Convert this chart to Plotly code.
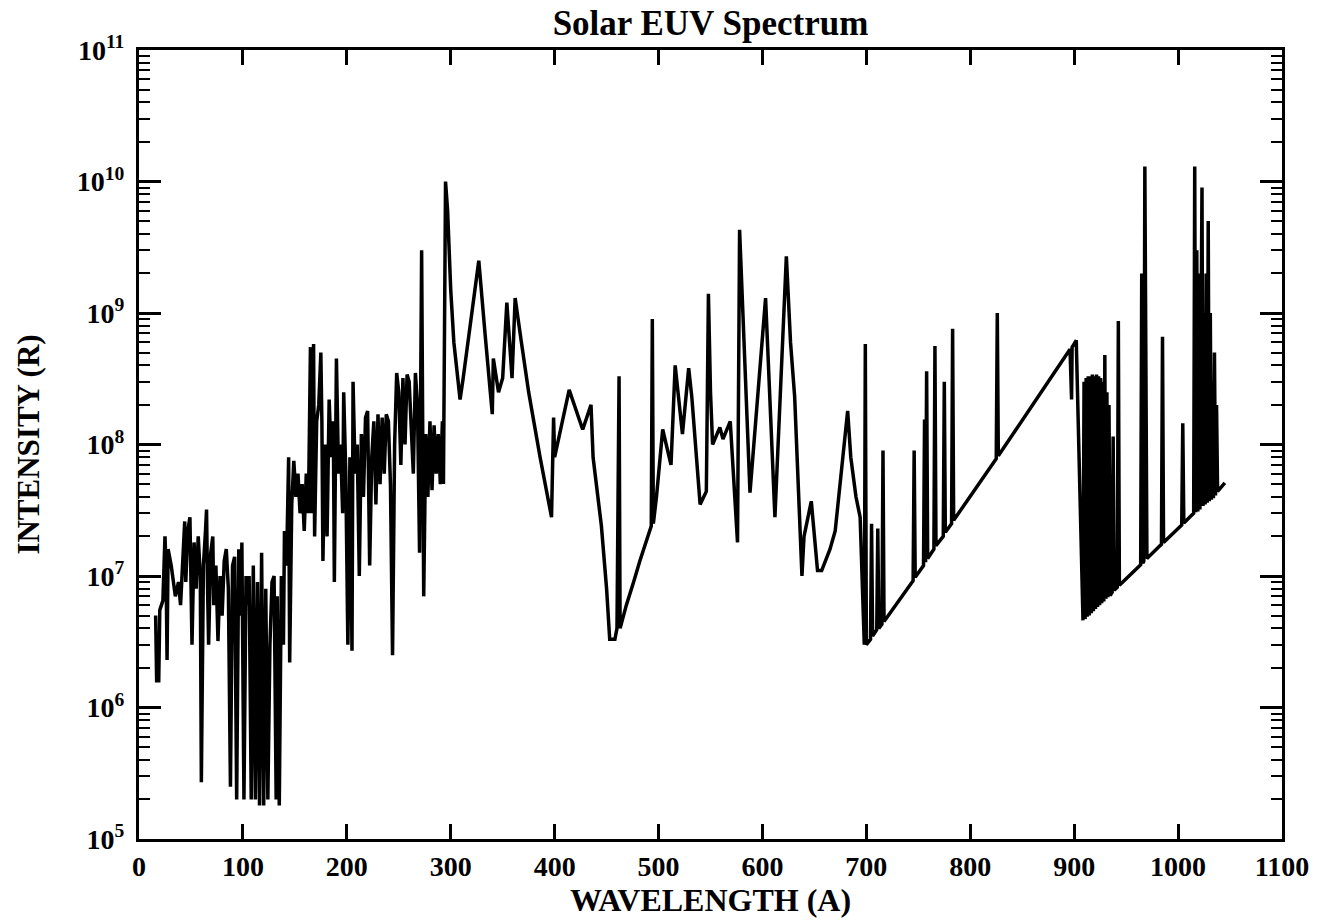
import plotly.graph_objects as go

# ---- data (wavelength in Angstrom, intensity in Rayleigh) ----
wavelength_short = [16, 17, 19, 20, 23, 25, 26, 27, 28, 31, 35, 38, 40, 42, 44, 45, 47, 49, 50, 51,
                    53, 55, 57, 59, 60, 62, 64, 65, 66, 67, 69, 71, 72, 74, 76, 78, 80, 82, 84, 86,
                    88, 90, 92, 94, 96, 98, 99, 101, 103, 105, 106, 108, 110, 112, 114, 116, 118, 120,
                    122, 124, 126, 128, 130, 132, 133, 135, 137, 139, 140, 142, 144, 145, 147, 149]
intensity_short = [5.0e6, 1.6e6, 1.6e6, 5.5e6, 6.5e6, 2.0e7, 1.2e7, 2.3e6, 1.6e7, 1.2e7, 7e6, 9e6, 6e6, 1.3e7,
                   2.6e7, 9e6, 2.2e7, 2.8e7, 1.0e7, 3.0e6, 1.8e7, 8e6, 2.0e7, 1.0e7, 2.7e5, 1.2e7, 2.2e7,
                   3.2e7, 8e6, 3.0e6, 1.5e7, 2.0e7, 6e6, 1.2e7, 3.2e6, 1.0e7, 5e6, 1.3e7, 1.6e7, 8e6,
                   2.5e5, 1.2e7, 1.4e7, 2.0e5, 1.6e7, 5e6, 1.8e7, 2.0e5, 1.0e7, 6e6, 1.0e7, 2.0e5, 1.2e7,
                   2.0e5, 9e6, 1.8e5, 1.5e7, 1.8e5, 8e6, 2.0e5, 3e6, 9e6, 1.0e7, 2.0e5, 7e6, 1.8e5, 1.0e7,
                   3e6, 2.2e7, 1.2e7, 8e7, 2.2e6, 3.5e7, 7.5e7]

wavelength_mid = [151, 153, 155, 157, 159, 161, 163, 165, 166, 168, 169, 171, 173, 175, 176, 177, 179, 181,
                  183, 185, 187, 188, 190, 192, 194, 196, 197, 199, 201, 203, 205, 206, 208, 210, 212, 214,
                  216, 218, 220, 222, 224, 226, 228, 230, 232, 234, 236, 238, 240, 242, 244, 246, 248, 250,
                  252, 254, 256, 258, 260, 262, 264, 266, 268, 270, 272, 274, 276, 278, 280, 282, 284, 286,
                  288, 290, 292, 293, 295, 297, 300, 303, 309, 312, 327, 333, 340, 341, 346, 350, 354, 359,
                  362, 368, 375, 386, 397, 399, 400, 414, 427, 435, 437, 445, 450, 453, 458, 460, 462, 463,
                  466, 469, 476, 482, 493, 494, 495, 498, 504, 512, 516, 523, 529, 532, 540, 546, 548, 550,
                  552, 559, 562, 569, 576, 578, 588, 603, 612, 623, 627, 631, 638, 640, 647, 653, 657, 665,
                  670, 682, 685, 690, 694, 697, 698, 699]
intensity_mid = [4e7, 6e7, 3e7, 5e7, 2.2e7, 6e7, 3e7, 5.5e8, 3e7, 5.8e8, 2e7, 1.5e8, 2e8, 5e8, 1.5e8, 1.3e7,
                 1e8, 2e7, 2.2e8, 8e7, 1.5e8, 9e6, 4.5e8, 6e7, 1e8, 3e7, 2.5e8, 6e7, 3e6, 8e7, 2.7e6, 3e8,
                 6e7, 1e8, 1e7, 1.2e8, 4e7, 1.6e8, 1.8e8, 1.2e7, 8e7, 1.5e8, 3.5e7, 1.7e8, 5e7, 1.6e8, 6e7,
                 1.7e8, 1.5e8, 5e7, 2.5e6, 1e8, 3.5e8, 2.5e8, 7e7, 3.2e8, 1e8, 3.4e8, 3e8, 1.5e8, 6e7,
                 3.5e8, 2e8, 1.5e7, 3e9, 7e6, 1.2e8, 4e7, 1.5e8, 4.5e7, 1.4e8, 6e7, 1.2e8, 5e7, 1.5e8, 5e7,
                 1.0e10, 6e9, 1.5e9, 6e8, 2.2e8, 3.2e8, 2.5e9, 7e8, 1.7e8, 4.5e8, 2.5e8, 3.2e8, 1.2e9, 3.2e8,
                 1.3e9, 6e8, 2.5e8, 8e7, 2.8e7, 1.6e8, 8e7, 2.6e8, 1.3e8, 2.0e8, 8e7, 2.4e7, 8e6, 3.3e6,
                 3.3e6, 4e6, 3.3e8, 4e6, 5e6, 6e6, 9e6, 1.3e7, 2.4e7, 9e8, 2.5e7, 4e7, 1.3e8, 7e7, 4e8,
                 1.2e8, 3.8e8, 2.3e8, 3.5e7, 4.4e7, 1.4e9, 2.5e8, 1.0e8, 1.35e8, 1.1e8, 1.5e8, 1.8e7, 4.3e9,
                 4.3e7, 1.3e9, 2.8e7, 2.7e9, 6e8, 2.3e8, 1.0e7, 2e7, 3.7e7, 1.1e7, 1.1e7, 1.6e7, 2.2e7,
                 1.8e8, 8e7, 4e7, 2.8e7, 6e6, 3.0e6, 5.8e8]

wavelength_long = [700, 704, 705, 706, 710, 711, 712, 715, 716, 717, 745, 746, 747, 755, 756, 757, 758, 759,
                   760, 765, 766, 767, 774, 775, 776, 782, 783, 784, 825, 826, 827, 896, 897.5, 898, 902,
                   908.5, 909.5, 910.5, 911.5, 912.5, 913.5, 914.5, 915.5, 916.5, 917.5, 918.5, 919.5,
                   920.5, 921.5, 922.5, 923.5, 924.5, 925.5, 926.5, 927.5, 928.5, 929.5, 930.5, 931.5,
                   932.5, 933.5, 934.5, 936.5, 937.5, 938.5, 941.5, 942.5, 943.5, 964, 965, 966, 967, 968,
                   970, 984, 985, 986, 1003.5, 1004.5, 1005.5, 1015, 1016, 1017, 1018, 1019, 1020, 1021,
                   1023, 1024, 1025, 1026, 1027, 1028, 1029, 1030, 1031, 1032, 1033, 1034, 1035, 1036,
                   1037, 1038, 1045]
intensity_long = [3.0e6, 3.3e6, 2.5e7, 3.5e6, 3.9e6, 2.3e7, 4.0e6, 4.3e6, 9e7, 4.5e6, 9.2e6, 9e7, 9.8e6,
                  1.2e7, 1.55e8, 1.27e7, 3.6e8, 1.36e7, 1.4e7, 1.6e7, 5.6e8, 1.7e7, 2.0e7, 3e8, 2.15e7,
                  2.5e7, 7.6e8, 2.65e7, 7.8e7, 1.0e9, 8.2e7, 5.3e8, 2.2e8, 5.5e8, 6.2e8,
                  4.6e6, 3.0e8, 4.7e6, 3.2e8, 4.9e6, 3.3e8, 5.0e6, 3.3e8, 5.2e6, 3.4e8, 5.4e6, 3.3e8,
                  5.6e6, 3.4e8, 5.8e6, 3.3e8, 6.0e6, 3.2e8, 6.2e6, 3.0e8, 6.4e6, 4.8e8, 6.7e6, 2.5e8,
                  6.9e6, 2.0e8, 7.1e6, 7.5e6, 1.15e8, 7.8e6, 8.2e6, 8.7e8, 8.5e6, 1.22e7, 2.0e9, 1.25e7,
                  1.3e7, 1.3e10, 1.36e7, 1.74e7, 6.6e8, 1.8e7, 2.44e7, 1.45e8, 2.53e7, 3.0e7, 1.3e10,
                  3.05e7, 3e9, 3.1e7, 2e9, 3.2e7, 9e9, 3.4e7, 1e9, 3.5e7, 2e9, 3.6e7, 5e9, 3.7e7, 1e9,
                  3.8e7, 3e8, 3.9e7, 5e8, 4.1e7, 2e8, 4.4e7, 5.1e7]

wavelength = wavelength_short + wavelength_mid + wavelength_long
intensity = intensity_short + intensity_mid + intensity_long

x_ticks = list(range(0, 1101, 100))
y_tick_exponents = [5, 6, 7, 8, 9, 10, 11]
y_tick_labels = ["10<sup>%d</sup>" % e for e in y_tick_exponents]

FONT = "Liberation Serif"

fig = go.Figure()
fig.add_trace(go.Scatter(x=wavelength, y=intensity, mode="lines",
                         line=dict(color="black", width=3.5), hoverinfo="skip"))

minor_vals = [m * 10 ** e for e in range(5, 11) for m in range(2, 10)]

fig.update_layout(
    width=1327, height=924,
    margin=dict(l=139, r=45, t=50, b=85),
    paper_bgcolor="white", plot_bgcolor="white",
    showlegend=False,
    title=dict(text="Solar EUV Spectrum", x=0.5, xref="paper", xanchor="center",
               y=1 - 23 / 924, yref="container", yanchor="middle",
               font=dict(family=FONT, size=35, color="black", weight="bold")),
    xaxis=dict(range=[0, 1100], tickmode="array", tickvals=x_ticks,
               ticks="inside", ticklen=15, tickwidth=2.5, tickcolor="black",
               showline=True, linewidth=3, linecolor="black", mirror="ticks",
               showgrid=False, zeroline=False,
               tickfont=dict(family=FONT, size=28, color="black", weight="bold"),
               title=dict(text="WAVELENGTH (A)", standoff=6,
                          font=dict(family=FONT, size=32, color="black", weight="bold"))),
    yaxis=dict(type="log", range=[5, 11], tickmode="array",
               tickvals=[10 ** e for e in y_tick_exponents], ticktext=y_tick_labels,
               ticks="inside", ticklen=22, tickwidth=2.5, tickcolor="black",
               ticklabelstandoff=6,
               showline=True, linewidth=3, linecolor="black", mirror="ticks",
               showgrid=False, zeroline=False,
               minor=dict(tickmode="array", tickvals=minor_vals, ticks="inside", ticklen=11,
                          tickwidth=2, tickcolor="black", showgrid=False),
               tickfont=dict(family=FONT, size=28, color="black", weight="bold"),
               title=dict(text="INTENSITY (R)", standoff=28,
                          font=dict(family=FONT, size=31, color="black", weight="bold"))),
)

fig.write_html("out.html")
